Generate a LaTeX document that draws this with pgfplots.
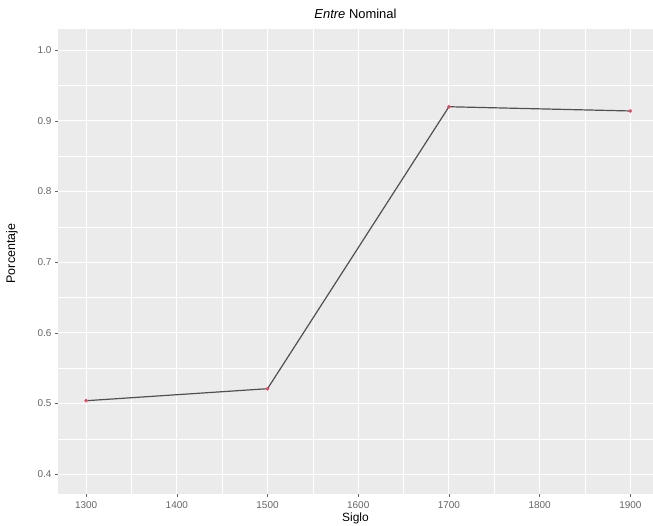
\documentclass[border=0pt]{standalone}
\usepackage{pgfplots}
\pgfplotsset{compat=1.18}
\usepackage{fontspec}
\setmainfont{Liberation Sans}
\definecolor{panelbg}{HTML}{EBEBEB}
\definecolor{ticktext}{HTML}{666666}
\definecolor{linegray}{HTML}{505050}
\definecolor{ptred}{HTML}{E8485F}
\begin{document}
\begin{tikzpicture}
\path[use as bounding box, fill=white] (0bp,0bp) rectangle (653bp,526bp);
\begin{axis}[
    at={(58bp,32bp)}, anchor=south west,
    scale only axis, width=595bp, height=465bp,
    xmin=1269, xmax=1925, ymin=0.372, ymax=1.03,
    axis background/.style={fill=panelbg},
    axis line style={draw=none},
    xtick={1300,1400,...,1900},
    ytick={0.4,0.5,...,1.0},
    minor xtick={1350,1450,...,1850},
    minor ytick={0.45,0.55,...,0.96},
    xtick pos=bottom, ytick pos=left,
    grid=both,
    major grid style={white, line width=1.1bp},
    minor grid style={white, line width=0.5bp},
    tick align=outside,
    major tick length=3bp, minor tick length=0bp,
    tick style={ticktext, line width=0.6bp},
    /pgf/number format/assume math mode=true,
    ticklabel style={font=\fontsize{10}{12}\selectfont, text=ticktext},
    xticklabel style={yshift=-1.5bp, /pgf/number format/.cd, set thousands separator={}},
    yticklabel style={/pgf/number format/.cd, fixed, fixed zerofill, precision=1},
    title={\textit{Entre} Nominal},
    title style={font=\fontsize{13}{15}\selectfont, at={(0.5,1)}, anchor=base, yshift=5bp},
    xlabel={Siglo},
    ylabel={Porcentaje},
    xlabel style={font=\fontsize{12}{14}\selectfont, at={(0.5,0)}, anchor=base, yshift=-27.5bp},
    ylabel style={font=\fontsize{12.5}{14}\selectfont, at={(-0.0773,0.517)}, anchor=center},
]
\addplot[linegray, line width=1.2bp, no marks] coordinates {
    (1300,0.504) (1500,0.521) (1700,0.920) (1900,0.914)
};
\addplot[only marks, mark=*, mark size=1.6bp, ptred] coordinates {
    (1300,0.504) (1500,0.521) (1700,0.920) (1900,0.914)
};
\end{axis}
\end{tikzpicture}
\end{document}
